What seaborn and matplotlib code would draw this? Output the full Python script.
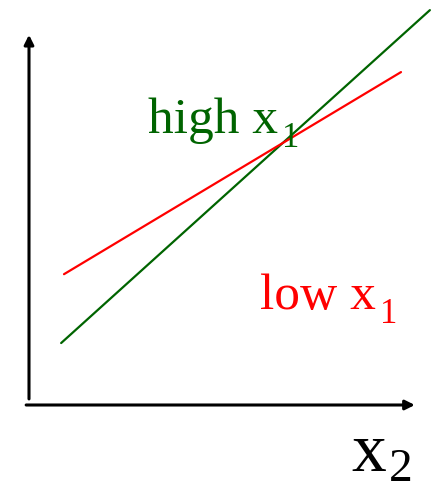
import matplotlib
matplotlib.use("Agg")
import matplotlib.pyplot as plt
import seaborn as sns
import pandas as pd

sns.set_theme(style="white")
plt.rcParams["font.family"] = ["Liberation Serif", "DejaVu Serif"]

# Interaction plot: response vs x2 at two levels of x1
x2_high = [0.79, 9.85]
y_high = [1.53, 9.75]
x2_low = [0.86, 9.14]
y_low = [3.23, 8.22]
levels = ["high", "low"]
label_high = ("high x", "1")
label_low = ("low x", "1")
label_x2 = ("x", "2")

df = pd.concat([
    pd.DataFrame({"x2": x2_high, "y": y_high, "x1": levels[0]}),
    pd.DataFrame({"x2": x2_low, "y": y_low, "x1": levels[1]}),
])
palette = {"high": "#006400", "low": "#ff0000"}

fig = plt.figure(figsize=(4.36, 4.93), dpi=100)
ax = fig.add_axes([29 / 436, 88 / 493, 407 / 436, 405 / 493])
sns.lineplot(data=df, x="x2", y="y", hue="x1", palette=palette,
             linewidth=1.6, legend=False, ax=ax, clip_on=False)
ax.set_xlim(0, 10)
ax.set_ylim(0, 10)
ax.axis("off")

# axes drawn as arrows
arrow = dict(arrowstyle="-|>", color="black", lw=2.2, mutation_scale=14,
             shrinkA=0, shrinkB=0)
ax.annotate("", xy=(0, 9.14), xytext=(0, 0.15), arrowprops=arrow,
            annotation_clip=False)
ax.annotate("", xy=(9.48, 0), xytext=(-0.07, 0), arrowprops=arrow,
            annotation_clip=False)


def label(x, y, sx, sy, parts, color, size, subsize):
    """Main text with a dropped subscript."""
    ax.text(x, y, parts[0], color=color, fontsize=size,
            va="baseline", ha="left", clip_on=False)
    ax.text(sx, sy, parts[1], color=color, fontsize=subsize,
            va="baseline", ha="left", clip_on=False)


label(2.92, 6.72, 6.22, 6.37, label_high, palette["high"], 37, 25)
label(5.68, 2.37, 8.62, 2.02, label_low, palette["low"], 37, 25)
label(7.93, -1.64, 8.84, -1.88, label_x2, "black", 50, 34)

fig.savefig("out.png", dpi=100)
